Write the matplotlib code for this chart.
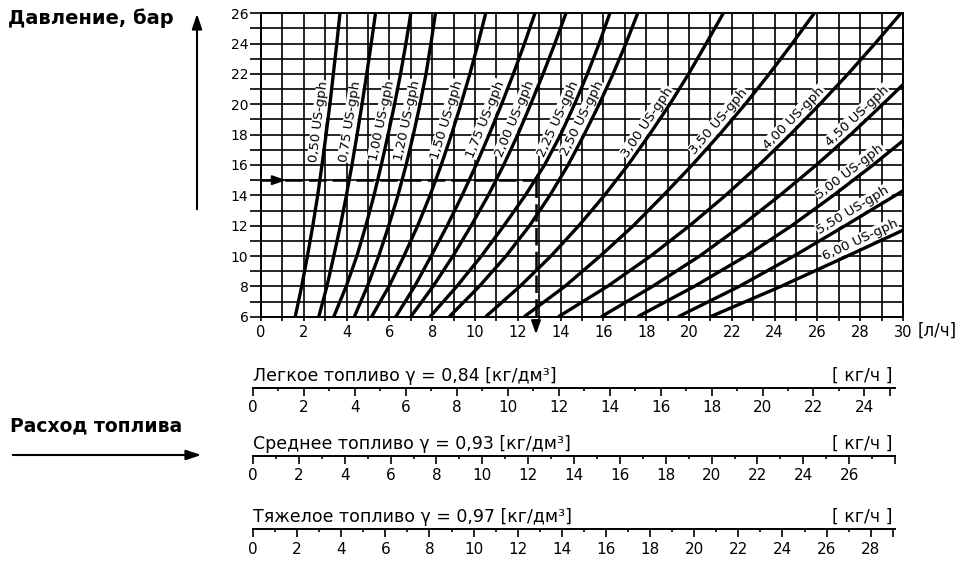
import numpy as np
import matplotlib.pyplot as plt
from matplotlib.ticker import MultipleLocator

plt.rcParams['font.family'] = ['DejaVu Sans']

# nozzle curves: flow [l/h] at given pressures [bar]
nozzles = ['0,50', '0,75', '1,00', '1,20', '1,50', '1,75', '2,00', '2,25',
           '2,50', '3,00', '3,50', '4,00', '4,50', '5,00', '5,50', '6,00']
p_std = [6, 8, 10, 12, 14, 16, 18, 20, 22, 24, 26]
pressures = [p_std] * 12 + [
    [6, 8, 10, 12, 14, 16, 18, 20, 21.3],
    [6, 8, 10, 12, 14, 16, 17.6],
    [6, 8, 10, 12, 14.3],
    [6, 8, 10, 11.7],
]
flows = [
    [1.60, 1.90, 2.17, 2.42, 2.65, 2.85, 3.04, 3.22, 3.38, 3.54, 3.69],
    [2.70, 3.08, 3.40, 3.71, 3.99, 4.25, 4.49, 4.72, 4.94, 5.15, 5.35],
    [3.40, 3.98, 4.48, 4.90, 5.28, 5.62, 5.94, 6.24, 6.52, 6.77, 7.00],
    [4.36, 4.97, 5.50, 5.97, 6.40, 6.78, 7.12, 7.43, 7.71, 7.94, 8.15],
    [5.17, 5.98, 6.68, 7.32, 7.90, 8.42, 8.90, 9.34, 9.76, 10.14, 10.50],
    [6.30, 7.18, 7.95, 8.70, 9.40, 10.05, 10.66, 11.24, 11.79, 12.31, 12.80],
    [7.00, 8.04, 8.97, 9.82, 10.62, 11.34, 12.00, 12.60, 13.18, 13.73, 14.25],
    [7.90, 9.15, 10.30, 11.35, 12.35, 13.25, 14.00, 14.65, 15.25, 15.80, 16.30],
    [8.80, 10.20, 11.45, 12.55, 13.50, 14.35, 15.10, 15.80, 16.45, 17.05, 17.60],
    [10.50, 12.10, 13.55, 14.85, 16.05, 17.15, 18.15, 19.10, 19.98, 20.80, 21.60],
    [12.30, 14.20, 15.85, 17.40, 18.80, 20.15, 21.42, 22.62, 23.75, 24.82, 25.85],
    [13.90, 16.19, 18.21, 20.03, 21.71, 23.27, 24.73, 26.11, 27.43, 28.69, 29.90],
    [15.90, 18.30, 20.50, 22.45, 24.25, 25.95, 27.55, 29.05, 30.00],
    [17.60, 20.25, 22.66, 24.80, 26.75, 28.60, 30.00],
    [19.50, 22.35, 24.90, 27.30, 30.00],
    [21.00, 24.30, 27.40, 30.00],
]
# pressure on each curve where its label sits
label_p = [18.8, 18.8, 18.8, 18.8, 18.8, 18.8, 18.8, 18.8,
           18.8, 18.5, 18.5, 18.7, 18.8, 15.1, 12.5, 10.5]

example_p = 15
example_q = 12.85

fuel_names = ['Легкое топливо γ = 0,84 [кг/дм³]',
              'Среднее топливо γ = 0,93 [кг/дм³]',
              'Тяжелое топливо γ = 0,97 [кг/дм³]']
densities = [0.84, 0.93, 0.97]
last_label = [24, 26, 28]
end_tick = [25, 28, 29]
scale_y = [388, 456, 529]

W, H = 965, 564
fig = plt.figure(figsize=(W / 100, H / 100), dpi=100)


def fx(px):
    return px / W


def fy(py):
    return 1 - py / H


ax = fig.add_axes([fx(261), fy(316.7), 642 / W, 303.4 / H])
ax.set_xlim(0, 30)
ax.set_ylim(6, 26)
ax.xaxis.set_major_locator(MultipleLocator(2))
ax.xaxis.set_minor_locator(MultipleLocator(1))
ax.yaxis.set_major_locator(MultipleLocator(2))
ax.yaxis.set_minor_locator(MultipleLocator(1))
ax.grid(which='both', color='k', lw=1.2, zorder=1)
ax.set_axisbelow(True)
ax.tick_params(axis='y', which='both', length=8, width=1.2, pad=1, labelsize=10)
ax.tick_params(axis='x', which='both', length=3, width=1.2, pad=3, labelsize=10.5)
for s in ax.spines.values():
    s.set_linewidth(1.4)

for xs, ps in zip(flows, pressures):
    ax.plot(xs, ps, color='k', lw=2.4, zorder=3, solid_capstyle='butt',
            solid_joinstyle='round')


def curve_angle(xs, ps, p):
    p0, p1 = max(p - 0.6, ps[0]), min(p + 0.6, ps[-1])
    x0, x1 = np.interp([p0, p1], ps, xs)
    (a, b), (c, d) = ax.transData.transform([(x0, p0), (x1, p1)])
    return np.degrees(np.arctan2(d - b, c - a))


gap = 6.5  # points, label centre to curve
for name, xs, ps, lp in zip(nozzles, flows, pressures, label_p):
    ang = curve_angle(xs, ps, lp)
    lx = np.interp(lp, ps, xs)
    t = np.radians(ang)
    ax.annotate(name + ' US-gph', xy=(lx, lp),
                xytext=(-np.sin(t) * gap, np.cos(t) * gap), textcoords='offset points',
                rotation=ang, rotation_mode='anchor',
                ha='center', va='center', fontsize=9.5, zorder=2,
                bbox=dict(fc='white', ec='none', pad=0.5))

# example reading
ax.plot([0, example_q], [example_p, example_p], color='k', lw=1.8,
        dashes=(7, 2.5), zorder=4)
ax.plot([example_q, example_q], [example_p, 5.2], color='k', lw=1.8,
        dashes=(7, 2.5), zorder=4, clip_on=False)
ax.annotate('', xy=(1.3, example_p), xytext=(0.5, example_p),
            arrowprops=dict(arrowstyle='-|>,head_length=0.8,head_width=0.28',
                            color='k', lw=1.5), zorder=5)
ax.annotate('', xy=(example_q, 4.65), xytext=(example_q, 5.6),
            annotation_clip=False,
            arrowprops=dict(arrowstyle='-|>,head_length=0.8,head_width=0.28',
                            color='k', lw=1.5), zorder=5)

fig.text(fx(937), fy(331), '[л/ч]', ha='center', va='center', fontsize=12)

# axis captions on the left
fig.text(fx(8), fy(18), 'Давление, бар', ha='left', va='center',
         fontsize=14, fontweight='bold')
fig.text(fx(10), fy(426), 'Расход топлива', ha='left', va='center',
         fontsize=13.5, fontweight='bold')
arrow_kw = dict(arrowstyle='-|>,head_length=0.9,head_width=0.3', color='k', lw=1.5)
ax.annotate('', xy=(197, H - 11), xytext=(197, H - 212), xycoords='figure pixels',
            textcoords='figure pixels', arrowprops=arrow_kw, annotation_clip=False)
ax.annotate('', xy=(204, H - 455), xytext=(10, H - 455), xycoords='figure pixels',
            textcoords='figure pixels', arrowprops=arrow_kw, annotation_clip=False)

# mass flow scales
for name, dens, last, end, y in zip(fuel_names, densities, last_label, end_tick, scale_y):
    sx = fig.add_axes([fx(253), fy(y), 642 / W, 0.0005])
    sx.set_xlim(0, max(30 * dens, end))
    sx.set_ylim(0, 1)
    for side in ['left', 'right', 'top']:
        sx.spines[side].set_visible(False)
    sx.spines['bottom'].set_linewidth(1.4)
    sx.set_yticks([])
    major = list(range(0, last + 1, 2)) + [end]
    sx.set_xticks(major)
    sx.set_xticklabels([str(v) for v in range(0, last + 1, 2)] + [''])
    sx.set_xticks([v for v in range(1, end) if v % 2 == 1], minor=True)
    sx.tick_params(axis='x', which='major', length=6, width=1.2, pad=3, labelsize=11)
    sx.tick_params(axis='x', which='minor', length=2.5, width=1.2)
    sx.patch.set_visible(False)
    sx.annotate(name, xy=(0, 0), xycoords='axes fraction', xytext=(0, 2),
                textcoords='offset points', ha='left', va='bottom', fontsize=12.5)
    sx.annotate('[ кг/ч ]', xy=(1, 0), xycoords='axes fraction', xytext=(-2, 2),
                textcoords='offset points', ha='right', va='bottom', fontsize=12.5)

fig.savefig('out.png', dpi=100)
